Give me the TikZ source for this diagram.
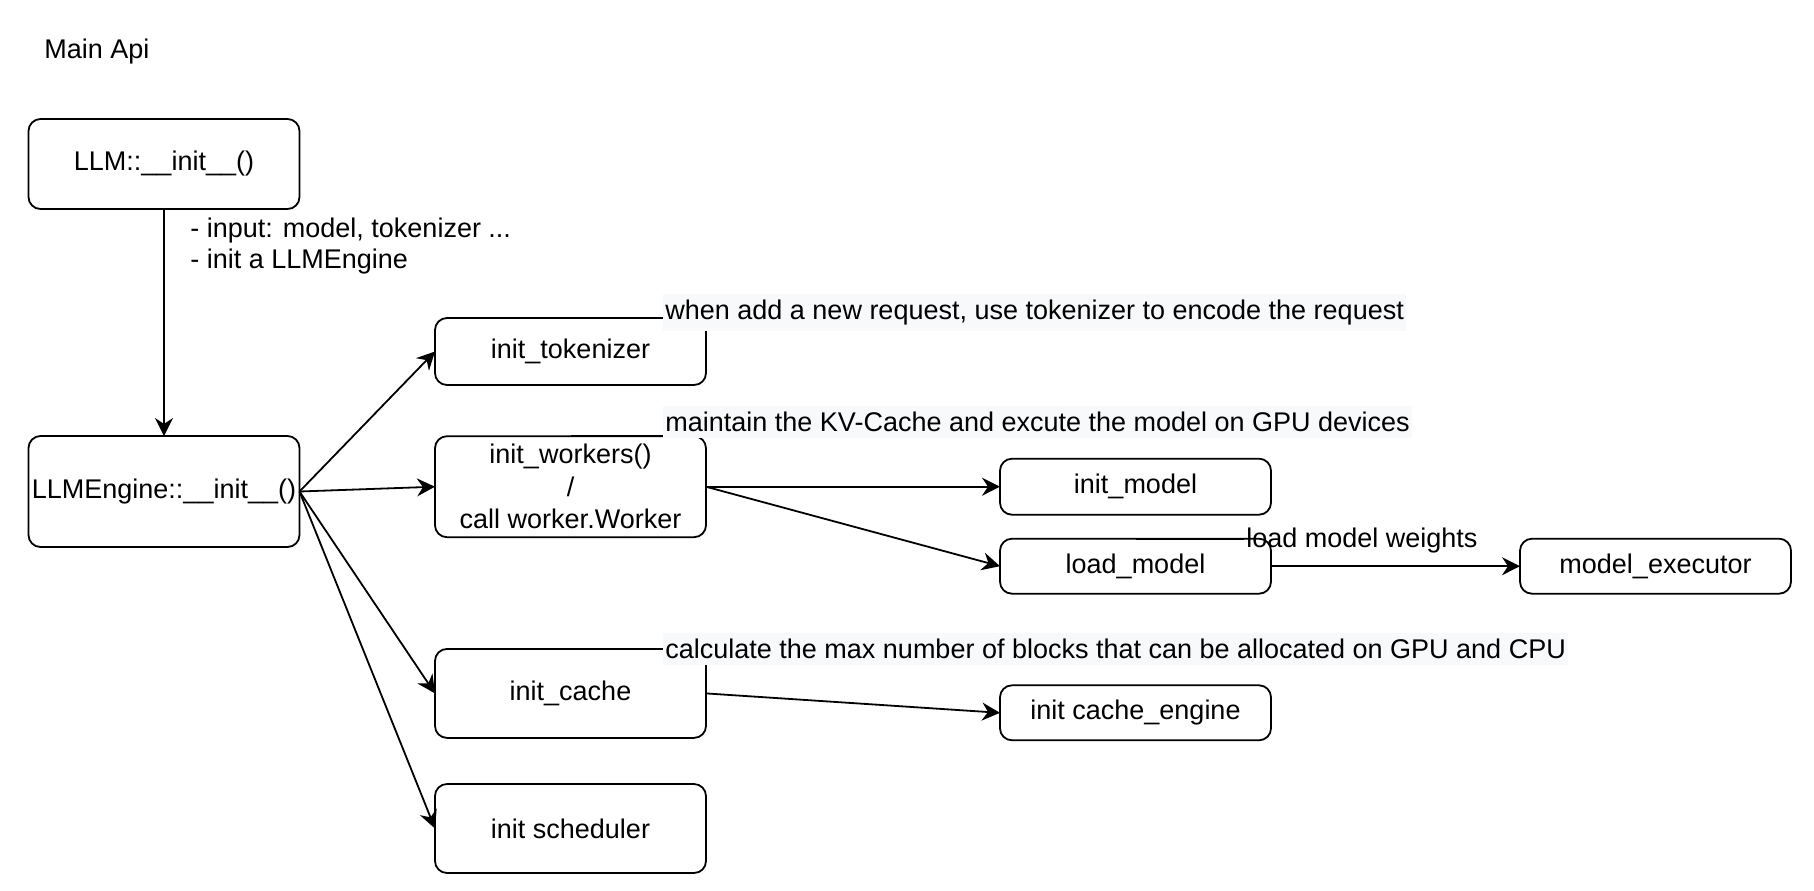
\documentclass[tikz,border=0pt]{standalone}
\usepackage{fontspec}
\setmainfont{Liberation Sans}
\usepackage{tikz}
\usetikzlibrary{arrows.meta,positioning}
\definecolor{Ink}{HTML}{000000}
\definecolor{NoteBg}{HTML}{F8F9FA}
\tikzset{
  box/.style={draw=Ink,fill=white,line width=.9pt,rounded corners=6pt,minimum width=135.5pt,align=center,inner sep=1pt,outer sep=0pt,font=\fontsize{13.5}{16.2}\selectfont},
  note/.style={fill=NoteBg,anchor=west,inner xsep=1pt,inner ysep=3pt,font=\fontsize{13.5}{16.2}\selectfont},
  plaintext/.style={anchor=west,align=left,inner sep=0pt,font=\fontsize{13.5}{15.5}\selectfont},
  flow/.style={-{Stealth[length=9pt,width=9pt,inset=3pt]},draw=Ink,line width=.9pt},
  plainline/.style={draw=Ink,line width=.9pt}
}
\begin{document}
\begin{tikzpicture}[x=.5pt,y=-.5pt,node distance=12pt]
        \useasboundingbox (0,0) rectangle (1814,890);
        \node[plaintext] (title) at (44,52) {Main Api};
        \node[box,minimum height=45pt] (llm) at (164,164) {LLM::\_\_init\_\_()};
        \node[box,minimum height=55.5pt,below=113.5pt of llm] (engine) {LLMEngine::\_\_init\_\_()};
        \node[plaintext] (llmnote) at (190,246) {- input: model, tokenizer ...\\- init a LLMEngine};
        \node[box,minimum height=33.5pt] (tok) at (570.5,351.5) {init\_tokenizer};
        \node[box,minimum height=50.5pt,below=25.6pt of tok] (workers) {init\_workers()\\/\\call worker.Worker};
        \node[box,minimum height=44.5pt,below=55.85pt of workers] (cache) {init\_cache};
        \node[box,minimum height=44.5pt,below=23.05pt of cache] (sched) {init scheduler};
        \node[box,minimum height=28pt,right=147pt of workers] (model) {init\_model};
        \node[box,minimum height=27.5pt,below=of model] (load) {load\_model};
        \node[box,minimum height=27.5pt,right=124.5pt of load] (exec) {model\_executor};
        \node[box,minimum height=27.5pt,below=45.8pt of load] (cengine) {init cache\_engine};
        \node[note] (toknote) at (663,312.5) {when add a new request, use tokenizer to encode the request};
        \node[note] (workersnote) at (663,422) {maintain the KV-Cache and excute the model on GPU devices};
        \node[note] (cachenote) at (663,649) {calculate the max number of blocks that can be allocated on GPU and CPU};
        \node[note,fill=none] (loadnote) at (1244,540.5) {load model weights};
        \draw[flow] (llm) -- (engine);
        \draw[flow] (engine.east) -- (tok.west);
        \draw[flow] (engine.east) -- (workers.west);
        \draw[flow] (engine.east) -- (cache.west);
        \draw[flow] (engine.east) -- (sched.west);
        \draw[flow] (workers.east) -- (model.west);
        \draw[flow] (workers.east) -- (load.west);
        \draw[flow] (load) -- (exec);
        \draw[flow] (cache.east) -- (cengine.west);
        \draw[plainline] (tok.north) -- (toknote.west |- tok.north);
        \draw[plainline] (workers.north) -- (workersnote.west |- workers.north);
        \draw[plainline] (cache.north) -- (cachenote.west |- cache.north);
        \draw[plainline] (load.north) -- (loadnote.west |- load.north);
      \end{tikzpicture}
\end{document}
